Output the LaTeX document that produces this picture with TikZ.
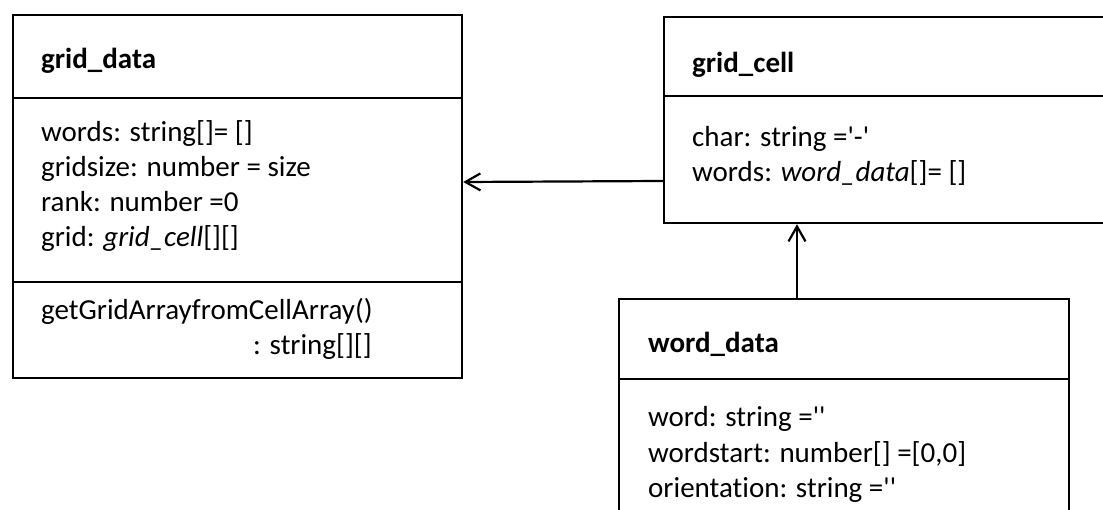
\documentclass[tikz,border=0pt]{standalone}
\usepackage{fontspec}
\setmainfont{Carlito}[Ligatures={NoCommon}]
\usetikzlibrary{arrows.meta}
\newcommand{\sq}{\textquotesingle}
\tikzset{
  classbox/.style={draw=black, line width=2.2pt, rectangle, inner sep=0pt, anchor=north west},
  divider/.style={draw=black, line width=2.2pt},
  title/.style={anchor=base west, inner sep=0pt, font=\fontsize{29}{35}\selectfont\bfseries},
  member/.style={anchor=base west, inner sep=0pt, font=\fontsize{29}{35}\selectfont},
  assoc/.style={draw=black, line width=2.2pt, -{Straight Barb[length=15pt,width=17pt,line width=2.2pt]}}
}
\begin{document}
\begin{tikzpicture}[x=1pt,y=-1pt]
\useasboundingbox (0,0) rectangle (1103,510);
\clip (0,0) rectangle (1103,510);

% class grid_data
\node[classbox, minimum width=449pt, minimum height=363pt] (data) at (12,14) {};
\draw[divider] (data.west |- 0,98) -- (data.east |- 0,98);
\draw[divider] (data.west |- 0,282) -- (data.east |- 0,282);
\node[title]  (dataname) at (41,69)  {grid\_data};
\node[member] (data1) at (41,142) {words: string[]= []};
\node[member] (data2) at (41,177) {gridsize: number = size};
\node[member] (data3) at (41,212) {rank: number =0};
\node[member] (data4) at (41,247) {grid: \textit{grid\_cell}[][]};
\node[member] (datam1) at (41,320) {getGridArrayfromCellArray()};
\node[member] (datam2) at (253,355) {: string[][]};

% class grid_cell
\node[classbox, minimum width=480pt, minimum height=206pt] (cell) at (663,16) {};
\draw[divider] (cell.west |- 0,96) -- (cell.east |- 0,96);
\node[title]  (cellname) at (692,73) {grid\_cell};
\node[member] (cell1) at (692,147) {char: string =\sq-\sq};
\node[member] (cell2) at (692,182) {words: \textit{word\_data}[]= []};

% class word_data
\node[classbox, minimum width=450pt, minimum height=260pt] (word) at (618,298) {};
\draw[divider] (word.west |- 0,379) -- (word.east |- 0,379);
\node[title]  (wordname) at (648,353) {word\_data};
\node[member] (word1) at (648,427) {word: string =\sq\sq};
\node[member] (word2) at (648,462) {wordstart: number[] =[0,0]};
\node[member] (word3) at (648,497) {orientation: string =\sq\sq};

% associations
\draw[assoc] (cell.west |- 0,181) -- (data.east |- 0,182);
\draw[assoc] (word.north -| 797,0) -- (cell.south -| 797,0);
\end{tikzpicture}
\end{document}
